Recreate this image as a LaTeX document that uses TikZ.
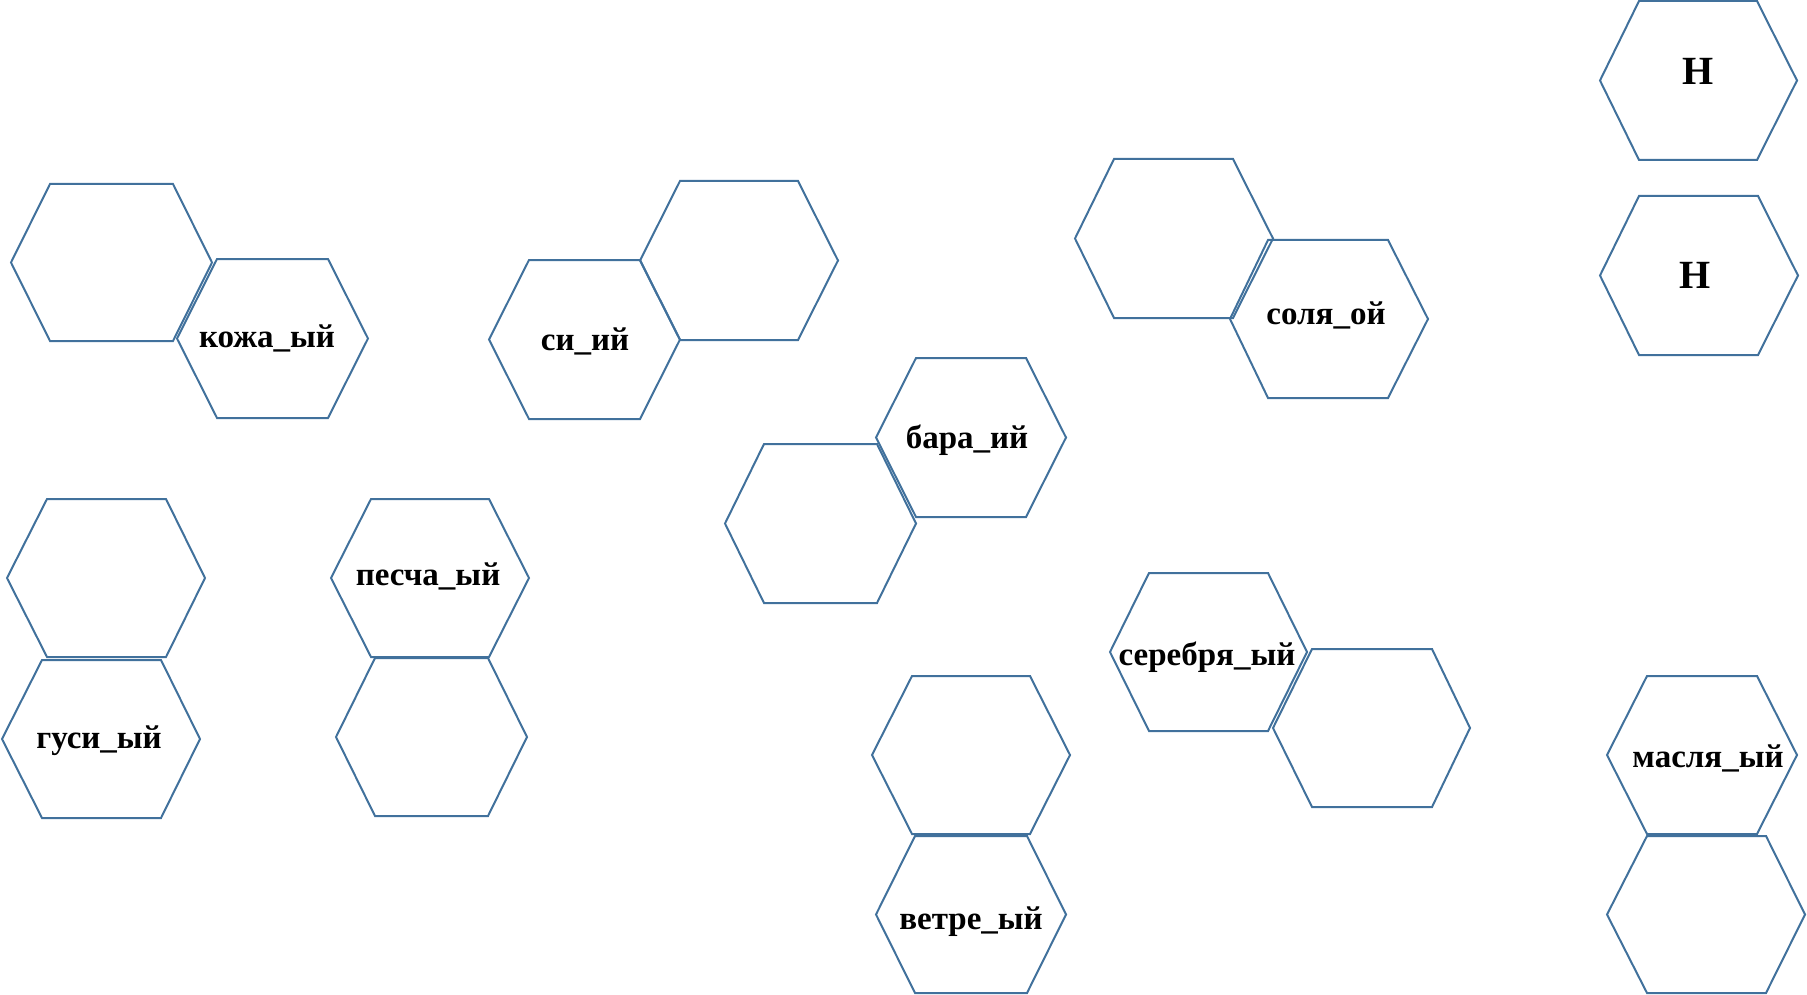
\documentclass[tikz,border=0pt]{standalone}
\usepackage{fontspec}
\setmainfont{Liberation Serif}
\definecolor{hexblue}{RGB}{65,113,156}
\tikzset{
  hexline/.style={draw=hexblue, line width=2pt, line join=miter},
  word/.style={font=\fontsize{33}{40}\selectfont\bfseries, anchor=base, inner sep=0pt},
  bigword/.style={word, font=\fontsize{40}{48}\selectfont\bfseries}
}
\newcommand\hexa[6]{\draw[hexline] (#1,{(#5+#6)/2}) -- (#2,#5) -- (#3,#5) -- (#4,{(#5+#6)/2}) -- (#3,#6) -- (#2,#6) -- cycle;}
\begin{document}
\begin{tikzpicture}[x=1pt,y=-1pt]
\useasboundingbox (0,0) rectangle (1807,995);
% hexagons
\hexa{11}{50}{173}{212}{184}{341}
\hexa{177}{217}{328}{368}{259}{418}
\hexa{489}{529}{640}{680}{260}{419}
\hexa{640}{680}{798}{838}{181}{340}
\hexa{1075}{1114}{1233}{1273}{159}{318}
\hexa{1230}{1268}{1388}{1428}{240}{398}
\hexa{1600}{1639}{1757}{1797}{1}{160}
\hexa{1600}{1639}{1758}{1798}{196}{355}
\hexa{725}{764}{877}{916}{444}{603}
\hexa{876}{916}{1026}{1066}{358}{517}
\hexa{7}{47}{166}{205}{499}{657}
\hexa{2}{42}{161}{200}{660}{818}
\hexa{331}{371}{489}{529}{499}{657}
\hexa{336}{375}{488}{527}{658}{816}
\hexa{1110}{1149}{1268}{1307}{573}{731}
\hexa{1273}{1312}{1432}{1470}{649}{807}
\hexa{872}{912}{1030}{1070}{676}{834}
\hexa{876}{915}{1027}{1066}{836}{993}
\hexa{1607}{1647}{1757}{1797}{676}{834}
\hexa{1607}{1647}{1766}{1805}{836}{993}
% labels
\node[word] (kozha) at (267,347) {кожа\_ый};
\node[word] (siy) at (585,350) {си\_ий};
\node[word] (solya) at (1326,324) {соля\_ой};
\node[word] (bara) at (967,448) {бара\_ий};
\node[word] (pescha) at (428,585) {песча\_ый};
\node[word] (gusi) at (99,748) {гуси\_ый};
\node[word] (serebr) at (1207,665) {серебря\_ый};
\node[word] (vetre) at (971,929) {ветре\_ый};
\node[word] (maslya) at (1708,767) {масля\_ый};
\node[bigword] (h1) at (1698,85) {Н};
\node[bigword] (h2) at (1695,288) {Н};
\end{tikzpicture}
\end{document}
